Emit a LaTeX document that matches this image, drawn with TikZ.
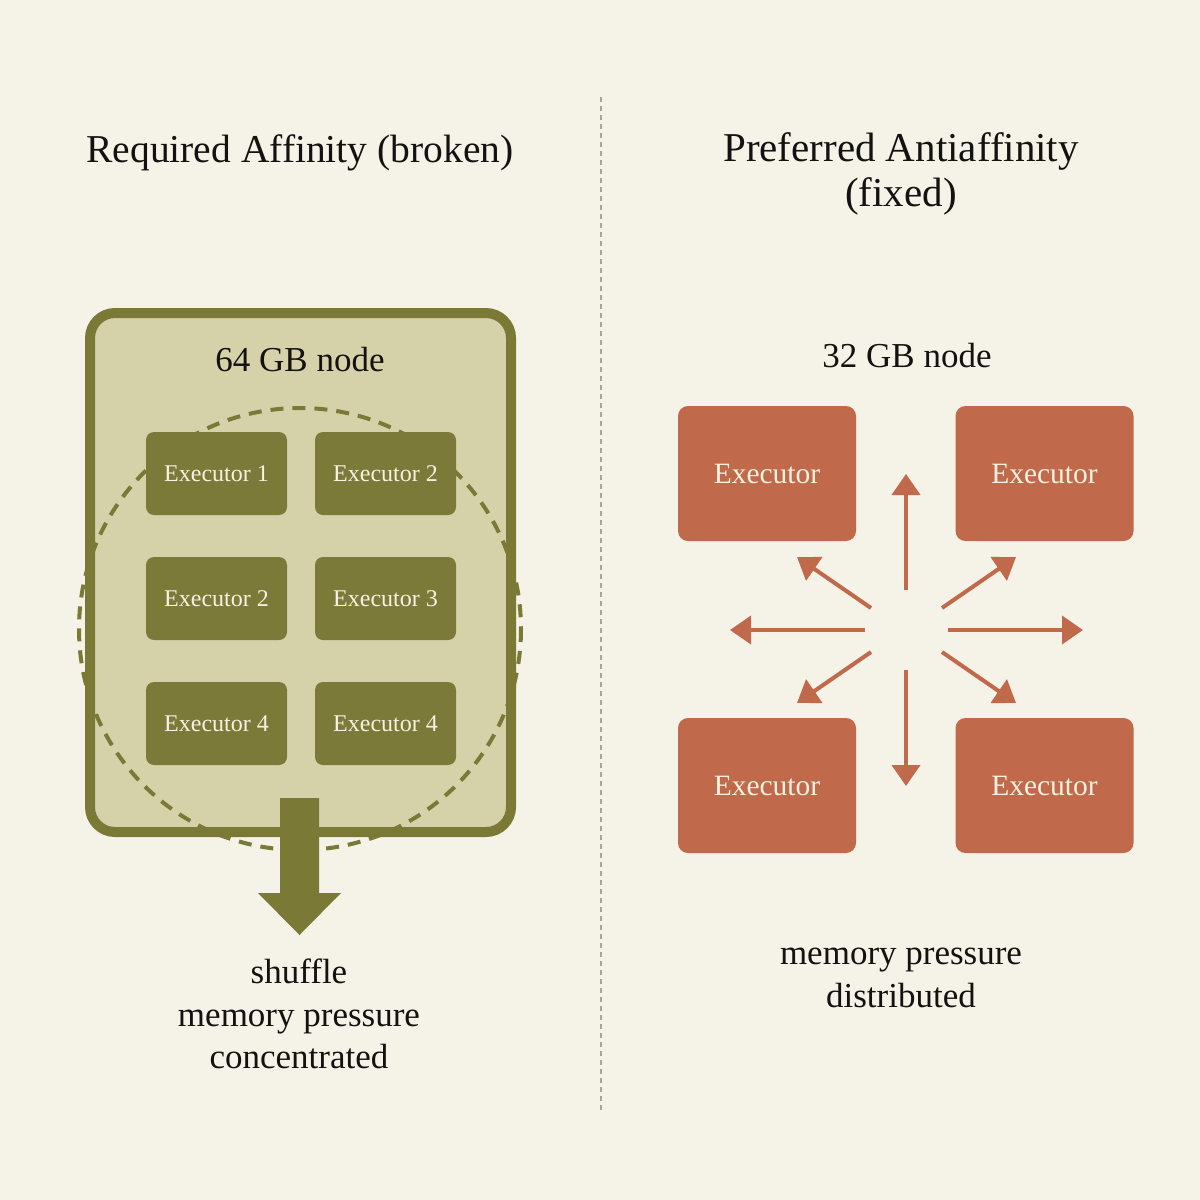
\documentclass[tikz,border=0pt]{standalone}
\usepackage{fontspec}
\setmainfont{Liberation Serif}
\usetikzlibrary{arrows.meta}
\definecolor{bg}{HTML}{F5F2E7}
\definecolor{olive}{HTML}{7A7936}
\definecolor{olivebox}{HTML}{7B7A38}
\definecolor{olivefill}{HTML}{D5D2AA}
\definecolor{rust}{HTML}{C1694B}
\definecolor{cream}{HTML}{F7F1E2}
\definecolor{divider}{HTML}{A8A49A}
\definecolor{ink}{HTML}{141210}
\tikzset{
  title/.style={text=ink, font=\fontsize{41}{45}\selectfont, align=center},
  caption/.style={text=ink, font=\fontsize{35}{42.5}\selectfont, align=center},
  execg/.style={fill=olivebox, rounded corners=8pt, minimum width=141pt, minimum height=83pt, text=cream, font=\fontsize{24}{26}\selectfont, inner sep=0pt},
  execr/.style={fill=rust, rounded corners=10pt, minimum width=178pt, minimum height=135pt, text=cream, font=\fontsize{29.5}{32}\selectfont, inner sep=0pt},
  spread/.style={draw=rust, line width=4pt, -{Triangle[length=21pt,width=28pt]}},
}
\begin{document}
\begin{tikzpicture}[x=1pt,y=-1pt]
\fill[bg] (0,0) rectangle (1200,1200);
\useasboundingbox (0,0) rectangle (1200,1200);
% divider
\coordinate (dtop) at (601,97);
\coordinate (dbot) at (601,1110);
\draw[divider, line width=1.3pt, dash pattern=on 5pt off 4pt] (dtop) -- (dbot);
% titles
\node[title, font=\fontsize{39.5}{45}\selectfont] (t1) at (300,153) {Required Affinity (broken)};
\node[title] (t2) at (901,174) {Preferred Antiaffinity\\(fixed)};
% left big node
\fill[olivefill, rounded corners=25pt] (90,313) rectangle (511,832);
\draw[olive, line width=4pt, dash pattern=on 13pt off 9pt] (300,629) circle (221);
\draw[olive, line width=10pt, rounded corners=25pt] (90,313) rectangle (511,832);
\node[text=ink, font=\fontsize{35}{40}\selectfont] (n64) at (300,360) {64 GB node};
\node[execg] (e1) at (216.5,473.5) {Executor 1};
\node[execg] (e2) at (385.5,473.5) {Executor 2};
\node[execg] (e3) at (216.5,598.5) {Executor 2};
\node[execg] (e4) at (385.5,598.5) {Executor 3};
\node[execg] (e5) at (216.5,723.5) {Executor 4};
\node[execg] (e6) at (385.5,723.5) {Executor 4};
% down arrow
\fill[olive] (280,798) -- (319,798) -- (319,893) -- (341,893) -- (299.5,935) -- (258,893) -- (280,893) -- cycle;
\node[caption] (c1) at (299,1014) {shuffle\\memory pressure\\concentrated};
% right
\node[text=ink, font=\fontsize{35}{40}\selectfont] (n32) at (907,356) {32 GB node};
\node[execr] (r1) at (767,473.5) {Executor};
\node[execr] (r2) at (1044.5,473.5) {Executor};
\node[execr] (r3) at (767,785.5) {Executor};
\node[execr] (r4) at (1044.5,785.5) {Executor};
\coordinate (ctr) at (906,630);
\draw[spread] (906,590) -- (906,474);
\draw[spread] (906,670) -- (906,786);
\draw[spread] (865,630) -- (730,630);
\draw[spread] (948,630) -- (1083,630);
\draw[spread] (871,608) -- (797,557);
\draw[spread] (942,608) -- (1016,557);
\draw[spread] (871,652) -- (797,703);
\draw[spread] (942,652) -- (1016,703);
\node[caption] (c2) at (901,978) {memory pressure\\distributed};
\end{tikzpicture}
\end{document}
